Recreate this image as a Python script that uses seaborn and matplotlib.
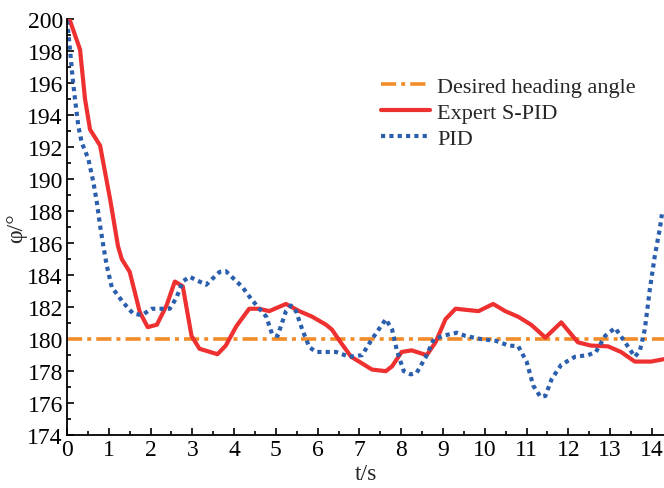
import numpy as np
import pandas as pd
import matplotlib
matplotlib.use("Agg")
import matplotlib.pyplot as plt
import seaborn as sns
from matplotlib.ticker import MultipleLocator

# data
t_expert = [0.0, 0.07, 0.31, 0.43, 0.55, 0.79, 1.03, 1.22, 1.31, 1.5, 1.74, 1.93,
            2.15, 2.38, 2.58, 2.77, 2.98, 3.17, 3.6, 3.8, 4.05, 4.36, 4.6, 4.84,
            5.24, 5.56, 5.87, 6.2, 6.34, 6.55, 6.8, 6.99, 7.3, 7.63, 7.78, 8.01,
            8.25, 8.61, 8.82, 9.06, 9.3, 9.85, 10.2, 10.49, 10.8, 11.11, 11.45,
            11.83, 12.23, 12.54, 12.95, 13.26, 13.59, 13.98, 14.29]
phi_expert = [200.0, 199.9, 198.1, 195.0, 193.1, 192.1, 188.75, 185.8, 185.0, 184.2,
              181.7, 180.75, 180.9, 182.1, 183.6, 183.3, 180.2, 179.4, 179.06, 179.6,
              180.8, 181.9, 181.9, 181.75, 182.2, 181.75, 181.4, 180.9, 180.6, 179.8,
              178.9, 178.6, 178.1, 178.0, 178.3, 179.2, 179.3, 179.0, 179.8, 181.25,
              181.9, 181.75, 182.2, 181.75, 181.4, 180.9, 180.1, 181.05, 179.8, 179.6,
              179.55, 179.2, 178.6, 178.6, 178.75]

t_pid = [0.0, 0.07, 0.13, 0.19, 0.27, 0.35, 0.51, 0.63, 0.71, 0.79, 0.87, 0.95,
         1.07, 1.34, 1.58, 1.79, 2.03, 2.22, 2.46, 2.62, 2.77, 2.93, 3.33, 3.65,
         3.8, 4.2, 4.41, 4.77, 4.91, 5.04, 5.24, 5.36, 5.48, 5.63, 5.8, 5.96,
         6.44, 6.75, 7.06, 7.3, 7.63, 7.78, 7.9, 8.06, 8.23, 8.37, 8.59, 8.78,
         9.06, 9.33, 9.54, 9.92, 10.26, 10.57, 10.8, 11.0, 11.16, 11.33, 11.45,
         11.6, 11.83, 12.16, 12.47, 12.66, 12.88, 13.12, 13.36, 13.59, 13.71,
         13.83, 13.95, 14.07, 14.19, 14.24]
phi_pid = [199.9, 198.1, 196.4, 195.0, 193.3, 192.3, 191.25, 189.8, 188.6, 187.1,
           185.8, 184.6, 183.25, 182.3, 181.6, 181.5, 181.9, 181.9, 181.9, 182.6,
           183.6, 183.9, 183.4, 184.2, 184.25, 183.25, 182.5, 181.4, 180.3, 180.2,
           181.75, 182.1, 181.75, 180.6, 179.5, 179.2, 179.2, 178.9, 179.0, 180.0,
           181.25, 180.6, 179.25, 178.0, 177.8, 177.9, 178.9, 180.0, 180.25, 180.4,
           180.2, 180.0, 179.9, 179.6, 179.56, 178.6, 177.1, 176.4, 176.45, 177.5,
           178.4, 178.9, 179.0, 179.2, 180.2, 180.7, 179.8, 178.9, 179.25, 180.6,
           183.1, 185.2, 186.9, 187.8]

t_desired = [0.0, 14.29]
phi_desired = [180.0, 180.0]

sns.set_style("ticks")
plt.rcParams['font.family'] = ['Liberation Serif', 'DejaVu Serif']

fig = plt.figure(figsize=(6.64, 4.89), dpi=100)
ax = fig.add_axes([0.101, 0.108, 0.899, 0.851])

sns.lineplot(x=t_desired, y=phi_desired, ax=ax, color='#f28c28', lw=2.6,
             linestyle=(0, (4.2, 1.4, 1.1, 1.4)), label='Desired heading angle')
sns.lineplot(x=t_expert, y=phi_expert, ax=ax, color='#ee3030', lw=3,
             label='Expert S-PID')
sns.lineplot(x=t_pid, y=phi_pid, ax=ax, color='#2b5fad', lw=3,
             linestyle=(0, (1, 1)), label='PID')
for ln in ax.lines:
    ln.set_dash_capstyle('butt')

ax.set_xlim(0, 14.29)
ax.set_ylim(174, 200)
ax.xaxis.set_major_locator(MultipleLocator(1))
ax.xaxis.set_minor_locator(MultipleLocator(0.5))
ax.yaxis.set_major_locator(MultipleLocator(2))
ax.yaxis.set_minor_locator(MultipleLocator(1))
ax.tick_params(which='both', direction='in', labelsize=17, width=1.2, colors='black')
ax.tick_params(which='major', length=5, pad=3)
ax.tick_params(which='minor', length=3)
for s in ['left', 'bottom']:
    ax.spines[s].set_linewidth(1.3)
    ax.spines[s].set_color('black')
sns.despine(ax=ax)

ax.set_xlabel('t/s', fontsize=17, labelpad=2)
ax.set_ylabel('φ/°', fontsize=17, labelpad=0)

leg = ax.legend(loc='upper left', bbox_to_anchor=(0.493, 0.911), frameon=False,
                fontsize=16, handlelength=2.2, handletextpad=0.3, labelspacing=0.25)
for ln in leg.get_lines():
    ln.set_dash_capstyle('butt')

fig.savefig('out.png', dpi=100)
